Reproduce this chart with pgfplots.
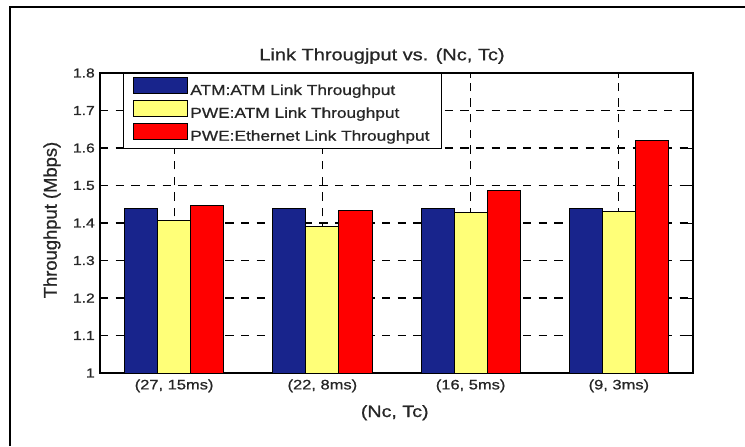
\documentclass[border=0pt]{standalone}
\usepackage{fontspec}
\setmainfont{Liberation Sans}[FakeStretch=1.2, FakeBold=0.8]
\newfontfamily\ylabfont{Liberation Sans}[FakeBold=0.8]
\usepackage{pgfplots}
\pgfplotsset{compat=1.18}
\definecolor{barblue}{RGB}{24,36,140}
\definecolor{baryellow}{RGB}{255,255,120}
\definecolor{barred}{RGB}{255,0,0}
\pgfplotsset{mybar/.style={ybar, bar width=0.223, draw=black, line width=0.7pt,
  legend image code/.code={\draw[##1] (0pt,-2.35pt) rectangle (40.5pt,10.15pt);}}}
\begin{document}
\begin{tikzpicture}
\useasboundingbox (0,0) rectangle (558.75pt,-334.5pt);
\draw[line width=1.6pt] (7.5pt,-334.5pt) -- (7.5pt,-5.1pt) -- (558.75pt,-5.1pt);
\begin{axis}[
  at={(75pt,-279.75pt)}, anchor=south west,
  scale only axis, width=444.75pt, height=225pt,
  xmin=-0.5, xmax=3.5, ymin=1, ymax=1.8,
  xtick={0,1,2,3},
  xticklabels={{(27, 15ms)},{(22, 8ms)},{(16, 5ms)},{(9, 3ms)}},
  ytick={1,1.1,1.2,1.3,1.4,1.5,1.6,1.7,1.8},
  yticklabels={1,1.1,1.2,1.3,1.4,1.5,1.6,1.7,1.8},
  tick align=inside, tick pos=both, major tick length=3.75pt,
  tick style={black, line width=0.7pt},
  grid=major,
  major grid style={black, line width=0.85pt, dash pattern=on 6.25pt off 5.5pt},
  axis line style={black, line width=0.8pt},
  /pgf/number format/assume math mode=true,
  yticklabel style={font=\fontsize{9.75}{11}\selectfont, text=black!85, anchor=east, inner sep=0pt, xshift=-3.75pt},
  xticklabel style={font=\fontsize{10.3}{12}\selectfont, text=black!85, anchor=base, inner sep=0pt, yshift=-12.3pt},
  title={Link Througjput vs. (Nc, Tc)},
  title style={font=\fontsize{12.5}{14}\selectfont, text=black!85, at={(rel axis cs:0.4755,1)}, anchor=base, inner sep=0pt, yshift=3.5pt},
  xlabel={(Nc, Tc)},
  xlabel style={font=\fontsize{12.3}{14}\selectfont, text=black!85, at={(rel axis cs:0.497,0)}, anchor=base, inner sep=0pt, yshift=-33pt},
  ylabel={Throughput (Mbps)},
  ylabel style={font=\ylabfont\fontsize{13.8}{15}\selectfont, text=black!85, at={(rel axis cs:-0.081,0.51)}, anchor=center, inner sep=0pt},
  legend style={at={(rel axis cs:0.0388,1)}, anchor=north west, draw=black, line width=0.6pt, fill=white,
    font=\fontsize{10.8}{13}\selectfont, text=black!85, inner xsep=7pt, inner ysep=2.5pt, row sep=0pt},
  legend cell align=left,
]
\addplot[mybar, bar shift=-0.223, fill=barblue] coordinates {(0,1.44) (1,1.44) (2,1.44) (3,1.44)};
\addlegendentry{ATM:ATM Link Throughput}
\addplot[mybar, bar shift=0, fill=baryellow] coordinates {(0,1.407) (1,1.392) (2,1.428) (3,1.43)};
\addlegendentry{PWE:ATM Link Throughput}
\addplot[mybar, bar shift=0.223, fill=barred] coordinates {(0,1.447) (1,1.433) (2,1.488) (3,1.62)};
\addlegendentry{PWE:Ethernet Link Throughput}
\end{axis}
\end{tikzpicture}
\end{document}
